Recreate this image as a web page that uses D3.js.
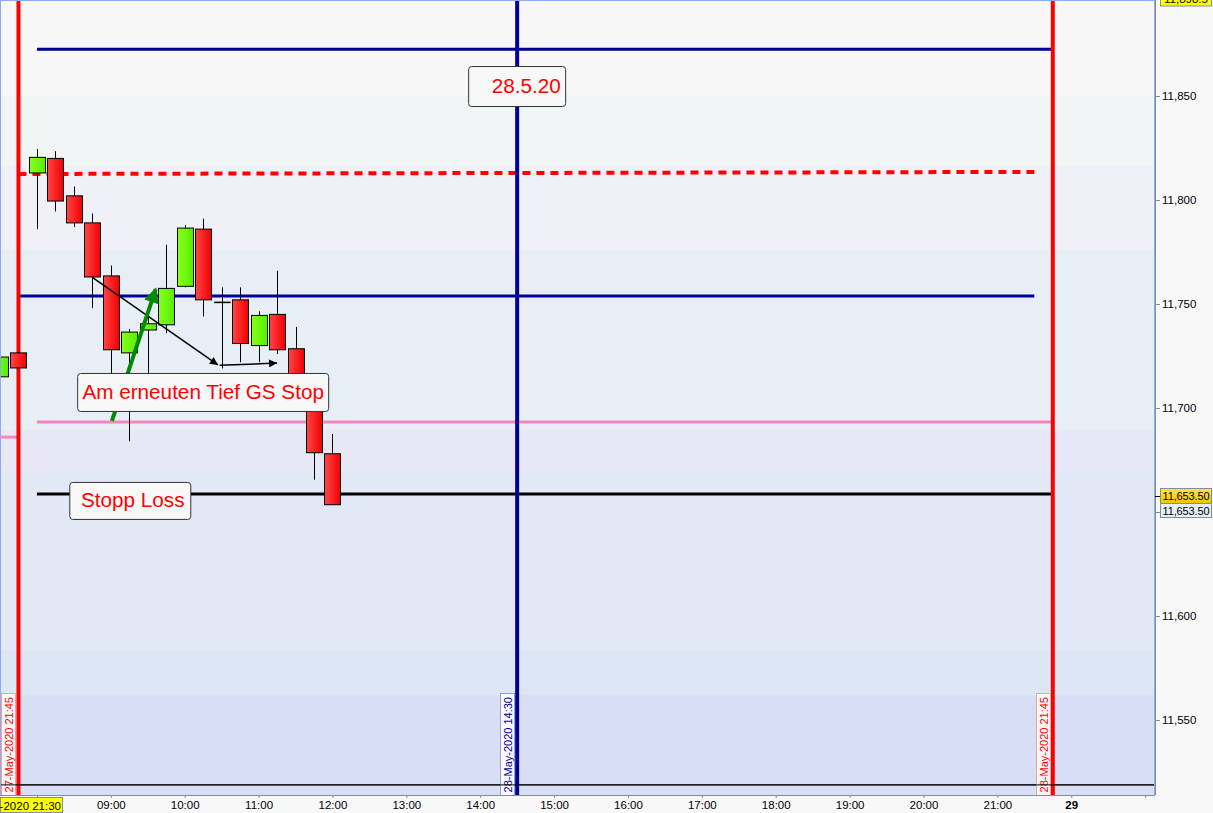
<!DOCTYPE html>
<html>
<head>
<meta charset="utf-8">
<script src="https://cdn.jsdelivr.net/npm/d3@7"></script>
<style>
  body { margin: 0; background: #f8f8f8; overflow: hidden; }
  text { font-family: "Liberation Sans", Arial, sans-serif; }
</style>
</head>
<body>
<div id="chart"></div>
<script>
// FDAX 15 min, 27./28. Mai 2020

var candleTimes = ["27 21:30", "27 21:45",
  "28 08:00", "28 08:15", "28 08:30", "28 08:45", "28 09:00", "28 09:15", "28 09:30", "28 09:45",
  "28 10:00", "28 10:15", "28 10:30", "28 10:45", "28 11:00", "28 11:15", "28 11:30", "28 11:45", "28 12:00"];
var opens  = [11715, 11726.5, 11813, 11820, 11802, 11789, 11763.5, 11726.5, 11737.5, 11740,
  11758.5, 11786, 11751, 11752, 11730, 11745, 11728.5, 11708, 11678];
var highs  = [11726, 11727, 11824.5, 11823.5, 11806.5, 11793.5, 11768.5, 11738, 11748, 11778.5,
  11788, 11791, 11758, 11758, 11746.5, 11766, 11739, 11710, 11687.5];
var lows   = [11699, 11719, 11786, 11794.5, 11787, 11748, 11712, 11684, 11712, 11736,
  11758, 11744, 11719, 11722, 11722, 11726, 11706, 11665.5, 11653.5];
var closes = [11724.5, 11719.25, 11820.5, 11799.5, 11789, 11763, 11728, 11736.5, 11740.5, 11757.5,
  11786.5, 11752, 11751, 11731, 11744.5, 11728, 11708, 11678.5, 11653.5];

var xTickTimes  = ["28 08:00", "28 09:00", "28 10:00", "28 11:00", "28 12:00", "28 13:00", "28 14:00",
  "28 15:00", "28 16:00", "28 17:00", "28 18:00", "28 19:00", "28 20:00", "28 21:00", "29 08:00", "29 09:00"];
var xTickLabels = ["", "09:00", "10:00", "11:00", "12:00", "13:00", "14:00",
  "15:00", "16:00", "17:00", "18:00", "19:00", "20:00", "21:00", "29", ""];
var yTicks = [11550, 11600, 11650, 11700, 11750, 11800, 11850];
var yTickHidden = [11650]; // covered by the price labels

// horizontal lines: price at start / end of line
var levelNames  = ["oben", "rot", "blau", "pink", "stopp", "pinkAlt", "unten"];
var levelFrom   = ["28 08:00", "27 21:45", "27 21:45", "28 08:00", "28 08:00", "27 21:30", "27 21:30"];
var levelTo     = ["28 21:45", "28 21:30", "28 21:30", "28 21:45", "28 21:45", "27 21:45", "29 09:30"];
var levelStart  = [11872.5, 11812.5, 11753.8, 11693.3, 11658.7, 11686, 11518.8];
var levelEnd    = [11872.5, 11813.5, 11753.8, 11693.3, 11658.7, 11686, 11518.8];

var vLineTimes  = ["27 21:45", "28 14:30", "28 21:45"];
var vLineLabels = ["27-May-2020 21:45", "28-May-2020 14:30", "28-May-2020 21:45"];

var noteTexts  = ["28.5.20", "Am erneuten Tief GS Stop", "Stopp Loss"];
var noteTimes  = ["28 14:30", "28 10:15", "28 09:15"];
var notePrices = [11854.8, 11707.7, 11655.8];

// arrows: [time, price] -> [time, price]
var arrowFrom = [["28 08:45", 11762.8], ["28 10:30", 11720.5], ["28 09:00", 11693.8]];
var arrowTo   = [["28 10:30", 11720.7], ["28 11:15", 11721.6], ["28 09:30", 11757.2]];
var arrowOffsetFrom = [0, -0.1, 0.06];
var arrowOffsetTo   = [-0.2, 0, 0.43];

var lastPrice = 11653.5;
var topPrice = 11898.5;

(function() {
  var width = 1213, height = 813,
      plotW = 1155, plotH = 795;

  // 15-min slots, night between the sessions collapsed
  function slot(t) {
    var p = t.split(" "), day = +p[0], hm = p[1].split(":");
    var h = +hm[0], m = +hm[1];
    if (day === 27) return (h - 21) * 4 + (m - 30) / 15;
    if (day === 28) return 2 + (h - 8) * 4 + m / 15;
    return 58 + (h - 8) * 4 + m / 15;
  }

  var x = d3.scaleLinear().domain([0, 62]).range([0, 62 * 18.47]);
  var y = d3.scaleLinear().domain([11550, 11850]).range([720, 96]);

  var svg = d3.select("#chart")
    .append("svg")
    .attr("width", width)
    .attr("height", height);

  var defs = svg.append("defs");
  defs.append("clipPath").attr("id", "plot-clip")
    .append("rect").attr("width", plotW).attr("height", plotH);

  var redGrad = defs.append("linearGradient").attr("id", "red-body");
  redGrad.append("stop").attr("offset", "0%").attr("stop-color", "#ff4646");
  redGrad.append("stop").attr("offset", "100%").attr("stop-color", "#f00000");
  var greenGrad = defs.append("linearGradient").attr("id", "green-body");
  greenGrad.append("stop").attr("offset", "0%").attr("stop-color", "#88ff22");
  greenGrad.append("stop").attr("offset", "100%").attr("stop-color", "#55ee00");
  var goldGrad = defs.append("linearGradient").attr("id", "gold").attr("x2", 0).attr("y2", 1);
  goldGrad.append("stop").attr("offset", "0%").attr("stop-color", "#ffe44a");
  goldGrad.append("stop").attr("offset", "100%").attr("stop-color", "#f2c400");

  defs.append("marker").attr("id", "ah-black")
    .attr("viewBox", "0 0 10 10").attr("refX", 10).attr("refY", 5)
    .attr("markerUnits", "userSpaceOnUse")
    .attr("markerWidth", 12).attr("markerHeight", 8)
    .attr("orient", "auto")
    .append("path").attr("d", "M0,0L10,5L0,10Z").attr("fill", "#000");
  defs.append("marker").attr("id", "ah-green")
    .attr("viewBox", "0 0 10 10").attr("refX", 9).attr("refY", 5)
    .attr("markerUnits", "userSpaceOnUse")
    .attr("markerWidth", 17).attr("markerHeight", 15)
    .attr("orient", "auto")
    .append("path").attr("d", "M0,0L10,5L0,10Z").attr("fill", "#008a00");

  var plot = svg.append("g").attr("clip-path", "url(#plot-clip)");

  // background bands
  var bandTops = [11900, 11850, 11816.3, 11776, 11689.4, 11670.2, 11583.6, 11562];
  var bandColors = ["#f7f7f7", "#eff6f5", "#eff0f8", "#e8eef6", "#e8e7f5", "#e2e8f6", "#dce6f5", "#d8dff5"];
  plot.selectAll(".band")
    .data(bandTops)
    .enter().append("rect")
    .attr("x", 0)
    .attr("width", plotW)
    .attr("y", function(d) { return Math.max(0, y(d)); })
    .attr("height", function(d, i) {
      var next = i < bandTops.length - 1 ? y(bandTops[i + 1]) : plotH;
      return next - Math.max(0, y(d));
    })
    .attr("fill", function(d, i) { return bandColors[i]; });

  // horizontal levels
  var levelColors = ["#000099", "#ff0000", "#000099", "#f783c0", "#000000", "#f783c0", "#000000"];
  var levelWidths = [3, 4, 3, 3, 3, 3, 1];
  plot.selectAll(".level")
    .data(levelNames)
    .enter().append("line")
    .attr("x1", function(d, i) { return x(slot(levelFrom[i])); })
    .attr("x2", function(d, i) { return x(slot(levelTo[i])); })
    .attr("y1", function(d, i) { return y(levelStart[i]); })
    .attr("y2", function(d, i) { return y(levelEnd[i]); })
    .attr("stroke", function(d, i) { return levelColors[i]; })
    .attr("stroke-width", function(d, i) { return levelWidths[i]; })
    .attr("stroke-dasharray", function(d) { return d === "rot" ? "8,6" : null; });

  // vertical time lines
  var vColors = ["#ff0000", "#000099", "#ff0000"];
  plot.selectAll(".vline")
    .data(vLineTimes)
    .enter().append("line")
    .attr("x1", function(d) { return x(slot(d)); })
    .attr("x2", function(d) { return x(slot(d)); })
    .attr("y1", 0)
    .attr("y2", plotH)
    .attr("stroke", function(d, i) { return vColors[i]; })
    .attr("stroke-width", 4);

  // candles
  var candles = plot.selectAll(".candle")
    .data(candleTimes)
    .enter().append("g");

  candles.append("line")
    .attr("x1", function(d) { return Math.round(x(slot(d))) + 0.5; })
    .attr("x2", function(d) { return Math.round(x(slot(d))) + 0.5; })
    .attr("y1", function(d, i) { return y(highs[i]); })
    .attr("y2", function(d, i) { return y(lows[i]); })
    .attr("stroke", "#000")
    .attr("stroke-width", 1);

  candles.append("rect")
    .attr("x", function(d) { return Math.round(x(slot(d))) - 7.5; })
    .attr("width", 16)
    .attr("y", function(d, i) { return y(Math.max(opens[i], closes[i])); })
    .attr("height", function(d, i) { return Math.max(1, Math.abs(y(opens[i]) - y(closes[i]))); })
    .attr("fill", function(d, i) {
      if (opens[i] === closes[i]) return "#000";
      return closes[i] > opens[i] ? "url(#green-body)" : "url(#red-body)";
    })
    .attr("stroke", "#000")
    .attr("stroke-width", function(d, i) { return opens[i] === closes[i] ? 0.5 : 1; });

  // arrows
  plot.selectAll(".arrow")
    .data(arrowFrom)
    .enter().append("line")
    .attr("x1", function(d, i) { return x(slot(d[0]) + arrowOffsetFrom[i]); })
    .attr("y1", function(d) { return y(d[1]); })
    .attr("x2", function(d, i) { return x(slot(arrowTo[i][0]) + arrowOffsetTo[i]); })
    .attr("y2", function(d, i) { return y(arrowTo[i][1]); })
    .attr("stroke", function(d, i) { return i === 2 ? "#008a00" : "#000"; })
    .attr("stroke-width", function(d, i) { return i === 2 ? 4 : 1.5; })
    .attr("marker-end", function(d, i) { return i === 2 ? "url(#ah-green)" : "url(#ah-black)"; });

  // note boxes (text sits a bit right of the box centre)
  var padLeft = [23, 5, 12], padRight = [5, 5, 5], boxH = [40, 38, 37];
  var notes = plot.selectAll(".note")
    .data(noteTexts)
    .enter().append("g")
    .attr("transform", function(d, i) {
      return "translate(" + x(slot(noteTimes[i])) + "," + y(notePrices[i]) + ")";
    });
  notes.append("text")
    .attr("dy", "0.35em")
    .attr("font-size", 20.7)
    .attr("fill", "#ff0000")
    .text(function(d) { return d; });
  notes.each(function(d, i) {
    var g = d3.select(this), t = g.select("text");
    var w = t.node().getComputedTextLength();
    var boxW = w + padLeft[i] + padRight[i];
    t.attr("x", -boxW / 2 + padLeft[i]);
    g.insert("rect", "text")
      .attr("x", Math.round(-boxW / 2) + 0.5)
      .attr("y", Math.round(-boxH[i] / 2) + 0.5)
      .attr("width", Math.round(boxW))
      .attr("height", boxH[i])
      .attr("rx", 3)
      .attr("fill", "#f8f8f8")
      .attr("stroke", "#333")
      .attr("stroke-width", 1);
  });

  // rotated time labels at the vertical lines
  var vTextColors = ["#ff0000", "#000099", "#ff0000"];
  var vBoxColors = ["#f2a0a0", "#9a9ad8", "#f2a0a0"];
  var vlab = plot.selectAll(".vlabel")
    .data(vLineTimes)
    .enter().append("g");
  vlab.append("rect")
    .attr("x", function(d) { return Math.round(x(slot(d))) - 16.5; })
    .attr("y", 693.5)
    .attr("width", 14)
    .attr("height", 110)
    .attr("fill", "#f8f8f8")
    .attr("stroke", function(d, i) { return vBoxColors[i]; });
  vlab.append("text")
    .attr("transform", function(d) { return "translate(" + (Math.round(x(slot(d))) - 5) + ",697) rotate(-90)"; })
    .attr("text-anchor", "end")
    .attr("font-size", 11)
    .attr("fill", function(d, i) { return vTextColors[i]; })
    .text(function(d, i) { return vLineLabels[i]; });

  // bottom line crosses the labels
  plot.append("line")
    .attr("x1", 0).attr("x2", plotW)
    .attr("y1", y(levelStart[6])).attr("y2", y(levelStart[6]))
    .attr("stroke", "#000").attr("stroke-width", 1);

  // plot border
  svg.append("rect")
    .attr("x", 0.5).attr("y", 0.5)
    .attr("width", plotW - 1).attr("height", plotH)
    .attr("fill", "none")
    .attr("stroke", "#8eaaf2");

  // axis panels
  svg.append("rect").attr("x", plotW).attr("y", 0).attr("width", width - plotW).attr("height", height).attr("fill", "#f8f8f8");
  svg.append("rect").attr("x", 0).attr("y", plotH).attr("width", width).attr("height", height - plotH).attr("fill", "#f8f8f8");

  var yAxis = svg.append("g")
    .attr("transform", "translate(" + plotW + ",0)")
    .call(d3.axisRight(y).tickValues(yTicks)
      .tickFormat(function(d) { return yTickHidden.indexOf(d) >= 0 ? "" : d3.format(",")(d); })
      .tickSize(5).tickPadding(2));
  yAxis.select(".domain").attr("d", "M0.5,0V" + plotH).attr("stroke", "#7f8f9a");
  yAxis.selectAll(".tick line").attr("stroke", "#7f8f9a");
  yAxis.selectAll(".tick text").attr("font-size", 11.5).attr("fill", "#000")
    .attr("font-family", "'Liberation Sans', Arial, sans-serif");

  var xAxis = svg.append("g")
    .attr("transform", "translate(0," + plotH + ")")
    .call(d3.axisBottom(x)
      .tickValues(xTickTimes.map(slot))
      .tickFormat(function(d, i) { return xTickLabels[i]; })
      .tickSize(3).tickPadding(3));
  xAxis.select(".domain").attr("d", "M0,0.5H" + plotW).attr("stroke", "#7f8f9a");
  xAxis.selectAll(".tick line").attr("stroke", "#7f8f9a");
  xAxis.selectAll(".tick text").attr("font-size", 11.5).attr("fill", "#000")
    .attr("font-family", "'Liberation Sans', Arial, sans-serif")
    .attr("font-weight", function(d, i) { return xTickLabels[i] === "29" ? "bold" : null; });

  // start date of the view
  svg.append("rect")
    .attr("x", 0.5).attr("y", 797.5).attr("width", 62).attr("height", 15)
    .attr("fill", "#ffff00").attr("stroke", "#7f8f9a");
  svg.append("text")
    .attr("x", 61).attr("y", 809.5)
    .attr("text-anchor", "end")
    .attr("font-size", 11.5)
    .text("27-May-2020 21:30");

  // price labels on the axis
  var priceFmt = d3.format(",.2f");
  svg.append("line")
    .attr("x1", plotW).attr("x2", plotW + 5)
    .attr("y1", 496.5).attr("y2", 496.5).attr("stroke", "#000");
  svg.append("rect")
    .attr("x", 1160.5).attr("y", 488.5).attr("width", 51).attr("height", 15)
    .attr("fill", "url(#gold)").attr("stroke", "#7f8f9a");
  svg.append("text")
    .attr("x", 1186).attr("y", 500).attr("font-size", 11)
    .attr("text-anchor", "middle").attr("textLength", 47)
    .text(priceFmt(lastPrice));
  svg.append("rect")
    .attr("x", 1160.5).attr("y", 503.5).attr("width", 51).attr("height", 14)
    .attr("fill", "#e6eef8").attr("stroke", "#7f8f9a");
  svg.append("text")
    .attr("x", 1186).attr("y", 514.5).attr("font-size", 11)
    .attr("text-anchor", "middle").attr("textLength", 47)
    .text(priceFmt(lastPrice));

  svg.append("rect")
    .attr("x", 1160.5).attr("y", -8).attr("width", 51).attr("height", 14)
    .attr("fill", "#ffff00").attr("stroke", "#7f8f9a");
  svg.append("text")
    .attr("x", 1186).attr("y", 3).attr("font-size", 11.5)
    .attr("text-anchor", "middle")
    .text(d3.format(",.1f")(topPrice));
})();
</script>
</body>
</html>
